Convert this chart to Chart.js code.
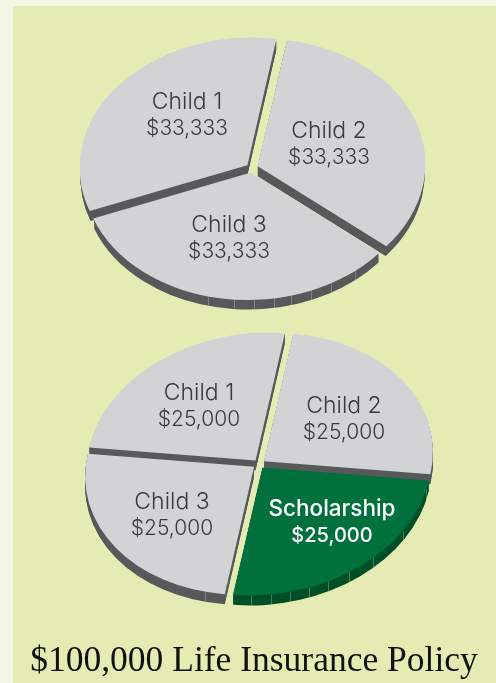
<!DOCTYPE html>
<html>
<head>
<meta charset="utf-8">
<title>$100,000 Life Insurance Policy</title>
<script src="https://cdn.jsdelivr.net/npm/chart.js@4"></script>
<style>
    html, body { margin: 0; padding: 0; width: 496px; height: 683px; overflow: hidden; background: #f4f7e4; }
    #panel { position: absolute; left: 13px; top: 6px; right: 0; bottom: 0; background: #e4ecb4; }
    canvas { position: absolute; left: 0; }
    #topPie { top: 0; }
    #bottomPie { top: 320px; }
</style>
</head>
<body>
<div id="panel"></div>
<canvas id="topPie" width="496" height="340"></canvas>
<canvas id="bottomPie" width="496" height="363"></canvas>
<script>
const topLabels = ['Child 1', 'Child 2', 'Child 3'];
const topValues = [33333, 33333, 33333];
const bottomLabels = ['Child 1', 'Child 2', 'Scholarship', 'Child 3'];
const bottomValues = [25000, 25000, 25000, 25000];
const titleText = '$100,000 Life Insurance Policy';

const GREY = '#d1d3d4';
const GREY_SIDE = '#58595b';
const GREEN = '#00703c';
const GREEN_SIDE = '#004f26';
const DEPTH = 10;

function money(v) {
    return '$' + v.toLocaleString('en-US');
}

// squashes the round pie into a tilted disc and gives it a rim
const tiltPlugin = {
    id: 'tilt',
    beforeDatasetsDraw(chart, args, opts) {
        const ctx = chart.ctx;
        const arcs = chart.getDatasetMeta(0).data;
        const place = function(d) {
            ctx.translate(opts.x, opts.y + d);
            ctx.transform(1, opts.shear, 0, opts.squash, 0, 0);
            ctx.translate(-arcs[0].x, -arcs[0].y);
        };

        // rim, from the bottom layer up (arc elements draw their offset at a quarter)
        for (let d = DEPTH; d >= 1; d--) {
            ctx.save();
            place(d);
            arcs.forEach((arc, i) => {
                const mid = (arc.startAngle + arc.endAngle) / 2;
                const off = arc.options.offset / 4;
                ctx.fillStyle = opts.sides[i];
                ctx.beginPath();
                ctx.moveTo(arc.x + Math.cos(mid) * off, arc.y + Math.sin(mid) * off);
                ctx.arc(arc.x + Math.cos(mid) * off, arc.y + Math.sin(mid) * off, arc.outerRadius, arc.startAngle, arc.endAngle);
                ctx.closePath();
                ctx.fill();
            });
            ctx.restore();
        }

        // little facet lines on the rim
        opts.facets.forEach(deg => {
            const a = deg * Math.PI / 180;
            arcs.forEach(arc => {
                let s = arc.startAngle, e = arc.endAngle;
                while (e > 2 * Math.PI) { s -= 2 * Math.PI; e -= 2 * Math.PI; }
                if (a < s || a > e) return;
                const mid = (s + e) / 2;
                const off = arc.options.offset / 4;
                const px = arc.x + Math.cos(mid) * off + Math.cos(a) * arc.outerRadius;
                const py = arc.y + Math.sin(mid) * off + Math.sin(a) * arc.outerRadius;
                ctx.save();
                place(0);
                const pt = ctx.getTransform().transformPoint({ x: px, y: py });
                ctx.restore();
                ctx.strokeStyle = 'rgba(200,205,200,0.35)';
                ctx.lineWidth = 1;
                ctx.beginPath();
                ctx.moveTo(Math.round(pt.x) + 0.5, pt.y);
                ctx.lineTo(Math.round(pt.x) + 0.5, pt.y + DEPTH);
                ctx.stroke();
            });
        });

        ctx.save();
        place(0);
    },
    afterDatasetsDraw(chart) {
        chart.ctx.restore();
    },
    afterDraw(chart, args, opts) {
        const ctx = chart.ctx;
        const labels = chart.data.labels;
        const values = chart.data.datasets[0].data;
        ctx.save();
        ctx.textAlign = 'center';
        ctx.textBaseline = 'middle';
        labels.forEach((label, i) => {
            const at = opts.labelAt[i];
            const white = label === 'Scholarship';
            ctx.fillStyle = white ? '#ffffff' : '#3a3a3c';
            ctx.font = white ? '500 22.5px Inter' : '300 23px Inter';
            ctx.fillText(label, at[0], at[1]);
            ctx.font = white ? '500 20px Inter' : '300 21px Inter';
            ctx.fillText(money(values[i]), at[0], at[1] + 27);
        });
        ctx.restore();
    }
};

function makePie(id, labels, values, colors, sides, rotation, radius, tilt, title) {
    new Chart(document.getElementById(id), {
        type: 'pie',
        data: {
            labels: labels,
            datasets: [{
                data: values,
                backgroundColor: colors,
                borderWidth: 0,
                offset: 24,
                clip: false
            }]
        },
        options: {
            responsive: false,
            animation: false,
            rotation: rotation,
            radius: radius,
            layout: { padding: { left: 12 } },
            plugins: {
                legend: { display: false },
                tooltip: { enabled: false },
                title: title,
                tilt: Object.assign({ sides: sides }, tilt)
            }
        },
        plugins: [tiltPlugin]
    });
}

makePie('topPie', topLabels, topValues,
    [GREY, GREY, GREY], [GREY_SIDE, GREY_SIDE, GREY_SIDE],
    250, 167,
    {
        x: 252, y: 168, squash: 0.76, shear: -0.015,
        facets: [51.5, 61.4, 69, 76, 82, 89, 96, 105],
        labelAt: [[187, 102], [329, 131], [229, 225]]
    },
    { display: false });

makePie('bottomPie', bottomLabels, bottomValues,
    [GREY, GREY, GREEN, GREY], [GREY_SIDE, GREY_SIDE, GREEN_SIDE, GREY_SIDE],
    280, 169,
    {
        x: 259, y: 144, squash: 0.755, shear: -0.055,
        facets: [14, 34, 49, 59, 67, 74, 80.5, 87, 94, 107],
        labelAt: [[199, 73], [344, 86], [332, 189], [172, 182]]
    },
    {
        display: true,
        text: titleText,
        position: 'bottom',
        color: '#111111',
        font: { family: '"Liberation Serif"', size: 35.5, weight: 'normal' },
        padding: { top: 0, bottom: 0 }
    });
</script>
</body>
</html>
